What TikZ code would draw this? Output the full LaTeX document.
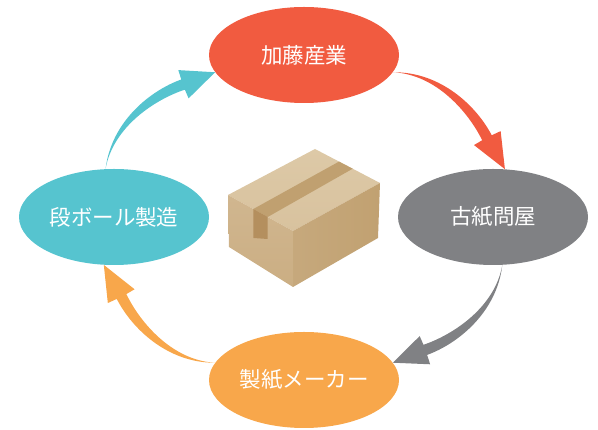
\documentclass[tikz,border=0pt]{standalone}
\usepackage{fontspec}
\setmainfont{Noto Sans CJK JP}
\usetikzlibrary{calc,shapes.geometric}
\definecolor{looped}{HTML}{F15B40}
\definecolor{loopgray}{HTML}{808184}
\definecolor{loopteal}{HTML}{56C4CF}
\definecolor{looporange}{HTML}{F8A74B}
\definecolor{boxtop}{HTML}{D8C29E}
\definecolor{boxtoplight}{HTML}{DDC9A7}
\definecolor{boxleft}{HTML}{CBAE83}
\definecolor{boxright}{HTML}{C1A171}
\definecolor{boxtape}{HTML}{C0A070}
\definecolor{boxtapefront}{HTML}{B48F5E}
\tikzset{
  loop node/.style={ellipse, minimum width=190pt, minimum height=96pt,
    inner sep=0pt, text=white, font=\fontsize{21.5}{26}\selectfont},
}
% tapered curved arrow: colour, tail, tip
\newcommand{\loopArrow}[3]{%
  \fill[#1] (#2)
    .. controls ($(#2)!36pt!(#3)!32pt!90:(#3)$)
            and ($(#2)!86pt!(#3)!29pt!90:(#3)$)
    .. ($(#2)!116pt!(#3)!17pt!90:(#3)$)
    -- ($(#2)!120pt!(#3)!26pt!90:(#3)$)
    -- (#3)
    -- ($(#2)!109pt!(#3)!-2pt!90:(#3)$)
    -- ($(#2)!112pt!(#3)!7pt!90:(#3)$)
    .. controls ($(#2)!84pt!(#3)!19pt!90:(#3)$)
            and ($(#2)!34pt!(#3)!27pt!90:(#3)$)
    .. cycle;
}

\begin{document}
\begin{tikzpicture}[x=1pt, y=1pt]
  \useasboundingbox (0,0) rectangle (598,430);

  % the four stations of the cycle
  \node[loop node, fill=looped]    (kato)   at (304,375) {加藤産業};
  \node[loop node, fill=loopgray]  (koshi)  at (493,213) {古紙問屋};
  \node[loop node, fill=looporange](seishi) at (304,50)  {製紙メーカー};
  \node[loop node, fill=loopteal]  (danbo)  at (114,213) {段ボール製造};

  \loopArrow{looped}{kato.-11}{koshi.76}
  \loopArrow{loopgray}{koshi.-79}{seishi.11}
  \loopArrow{looporange}{seishi.169}{danbo.258}
  \loopArrow{loopteal}{danbo.100}{kato.191}

  % cardboard box
  \shade[top color=boxtoplight, bottom color=boxtop]
    (228,235) -- (315,281) -- (380,247) -- (293,199) -- cycle;
  \shade[top color=boxleft!90!white, bottom color=boxleft]
    (228,235) -- (293,199) -- (293,143) -- (229,183) -- cycle;
  \shade[left color=boxright!92!white, right color=boxright]
    (293,199) -- (380,247) -- (378,192) -- (293,143) -- cycle;
  \fill[boxtape] (253.4,221) -- (339,268.4) -- (352.7,261.3) -- (267.7,213) -- cycle;
  \fill[boxtapefront] (253.4,221) -- (267.7,213) -- (267.7,191) -- (253.4,192) -- cycle;
\end{tikzpicture}
\end{document}
